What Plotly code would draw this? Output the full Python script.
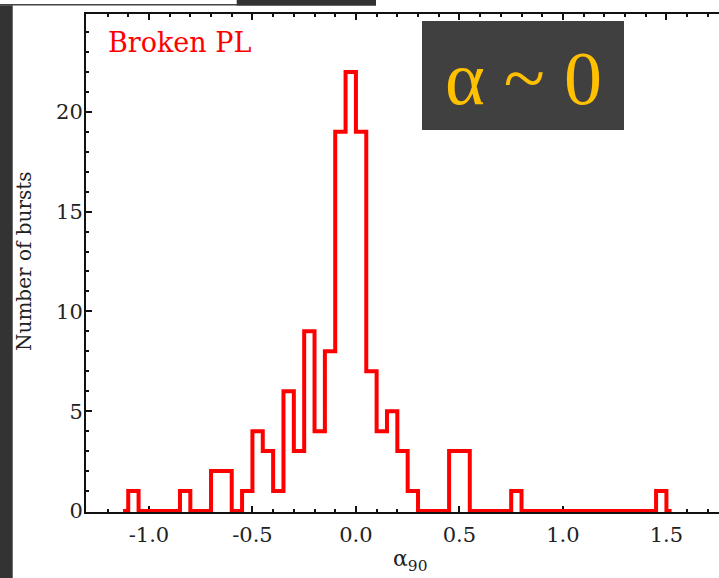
import plotly.graph_objects as go

# ---- data (bin centres of width 0.05, counts per bin) ----
bin_centers = [round(-1.125 + 0.05 * i, 3) for i in range(54)]
counts = [
    0, 1, 0, 0, 0, 0, 1, 0, 0, 2,      # -1.125 .. -0.675
    2, 0, 1, 4, 3, 1, 6, 3, 9, 4,      # -0.625 .. -0.175
    8, 19, 22, 19, 7, 4, 5, 3, 1, 0,   # -0.125 .. 0.325
    0, 0, 3, 3, 0, 0, 0, 0, 1, 0,      # 0.375 .. 0.825
    0, 0, 0, 0, 0, 0, 0, 0, 0, 0,      # 0.875 .. 1.325
    0, 0, 1, 0,                        # 1.375 .. 1.525
]
x_tick_vals = [-1.0, -0.5, 0.0, 0.5, 1.0, 1.5]
x_tick_text = ["-1.0", "-0.5", "0.0", "0.5", "1.0", "1.5"]
y_tick_vals = [0, 5, 10, 15, 20]
y_tick_text = ["0", "5", "10", "15", "20"]

W, H = 719, 578
ML, MR, MT, MB = 86, 0, 14, 66
PW, PH = W - ML - MR, H - MT - MB


def px(x):
    return (x - ML) / PW


def py(y):
    return (H - MB - y) / PH


fig = go.Figure()
fig.add_trace(go.Scatter(
    x=bin_centers, y=counts, mode="lines",
    line=dict(color="#FF0000", width=4, shape="hvh"),
    showlegend=False, hoverinfo="skip",
))

axis_font = dict(family="DejaVu Serif", size=21, color="#222222")

fig.update_layout(
    width=W, height=H,
    margin=dict(l=ML, r=MR, t=MT, b=MB, pad=0),
    paper_bgcolor="white", plot_bgcolor="white",
    xaxis=dict(
        range=[-1.304, 1.754], showgrid=False, zeroline=False,
        showline=True, linecolor="#111111", linewidth=2, mirror="ticks",
        ticks="inside", ticklen=6, tickwidth=2, tickcolor="#111111",
        tickvals=x_tick_vals, ticktext=x_tick_text,
        tickfont=axis_font, ticklabelstandoff=3,
        minor=dict(dtick=0.1, tick0=0, ticks="inside", ticklen=3,
                   tickwidth=2, tickcolor="#111111"),
        layer="below traces",
    ),
    yaxis=dict(
        range=[-0.05, 24.9], showgrid=False, zeroline=False,
        showline=True, linecolor="#111111", linewidth=2, mirror=False,
        ticks="inside", ticklen=6, tickwidth=2, tickcolor="#111111",
        tickvals=y_tick_vals, ticktext=y_tick_text,
        tickfont=axis_font, ticklabelstandoff=-3,
        minor=dict(dtick=1, tick0=0, ticks="inside", ticklen=3,
                   tickwidth=2, tickcolor="#111111"),
        layer="below traces",
    ),
    shapes=[
        # dark strip on the left
        dict(type="rect", xref="paper", yref="paper",
             x0=px(0), x1=px(12.7), y0=py(H), y1=py(5.3),
             fillcolor="#333333", line=dict(width=0), layer="above"),
        # thin line along the top
        dict(type="line", xref="paper", yref="paper",
             x0=px(0), x1=px(237), y0=py(4.8), y1=py(4.8),
             line=dict(color="#444444", width=1.5), layer="above"),
        # dark bar at the top
        dict(type="rect", xref="paper", yref="paper",
             x0=px(236.7), x1=px(376), y0=py(5.8), y1=py(0),
             fillcolor="#333333", line=dict(width=0), layer="above"),
        # annotation box
        dict(type="rect", xref="paper", yref="paper",
             x0=px(422), x1=px(624), y0=py(130), y1=py(21),
             fillcolor="#404040", line=dict(width=0), layer="above"),
    ],
    annotations=[
        dict(text="Broken PL", xref="paper", yref="paper",
             x=px(106), y=py(43), xanchor="left", yanchor="middle",
             showarrow=False,
             font=dict(family="DejaVu Serif", size=27, color="#FF0000")),
        dict(text="α ~ 0", xref="paper", yref="paper",
             x=px(523), y=py(78), xanchor="center", yanchor="middle",
             showarrow=False,
             font=dict(family="Liberation Serif", size=76, color="#FFC000")),
        dict(text="Number of bursts", xref="paper", yref="paper",
             x=px(24), y=py(261), xanchor="center", yanchor="middle",
             textangle=-90, showarrow=False,
             font=dict(family="DejaVu Serif", size=20, color="#222222")),
        dict(text="α<sub>90</sub>", xref="paper", yref="paper",
             x=px(410), y=py(560), xanchor="center", yanchor="middle",
             showarrow=False,
             font=dict(family="DejaVu Serif", size=22, color="#222222")),
    ],
)

fig.write_html(
    "out.html",
    config={"displayModeBar": False},
    post_script="document.body.style.margin='0';document.body.style.padding='0';",
)
